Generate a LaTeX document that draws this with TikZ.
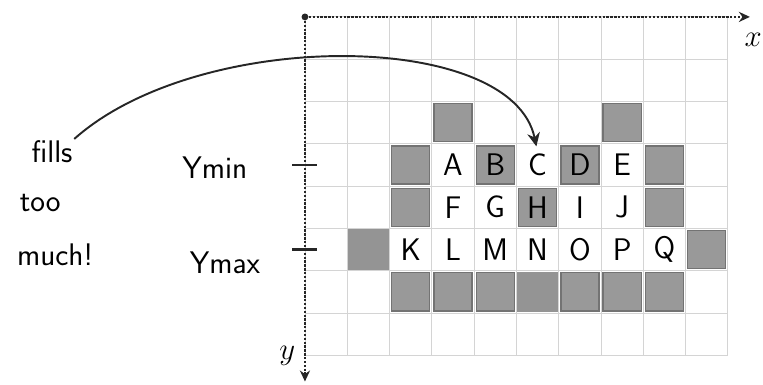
\documentclass[tikz,border=0pt]{standalone}
\usepackage{tikz}
\usetikzlibrary{arrows.meta, positioning}
\tikzset{
  gridline/.style={draw=black!17, line width=0.6pt},
  cellbox/.style={fill=black!40, draw=black!55, line width=0.9pt},
  flatbox/.style={fill=black!42},
  letter/.style={font=\sffamily\fontsize{21}{24}\selectfont, inner sep=1pt},
  handnote/.style={font=\sffamily\fontsize{21}{24}\selectfont, inner sep=1pt},
  axisline/.style={densely dotted, line width=1.6pt, black!85, -{Stealth[length=2.6mm, width=2.4mm]}},
  tickline/.style={line width=1.5pt, black!85},
  pointer/.style={-{Stealth[length=3.2mm, width=3mm]}, line width=1.3pt, black!85}
}

\begin{document}
\begin{tikzpicture}

\useasboundingbox (-7.21,-8.70) rectangle (10.83,0.40);

% Grid
\draw[gridline] (0,0) grid (10,-8);

% Filled cells
\draw[cellbox] (3.05,-2.05) rectangle ++(0.9,-0.9);
\draw[cellbox] (7.05,-2.05) rectangle ++(0.9,-0.9);

\draw[cellbox] (2.05,-3.05) rectangle ++(0.9,-0.9);
\draw[cellbox] (4.05,-3.05) rectangle ++(0.9,-0.9);
\draw[cellbox] (6.05,-3.05) rectangle ++(0.9,-0.9);
\draw[cellbox] (8.05,-3.05) rectangle ++(0.9,-0.9);

\draw[cellbox] (2.05,-4.05) rectangle ++(0.9,-0.9);
\draw[cellbox] (5.05,-4.05) rectangle ++(0.9,-0.9);
\draw[cellbox] (8.05,-4.05) rectangle ++(0.9,-0.9);

\fill[flatbox] (1.02,-5.02) rectangle ++(0.96,-0.96);
\draw[cellbox] (9.05,-5.05) rectangle ++(0.9,-0.9);

\draw[cellbox] (2.05,-6.05) rectangle ++(0.9,-0.9);
\draw[cellbox] (3.05,-6.05) rectangle ++(0.9,-0.9);
\draw[cellbox] (4.05,-6.05) rectangle ++(0.9,-0.9);
\fill[flatbox] (5.02,-6.02) rectangle ++(0.96,-0.96);
\draw[cellbox] (6.05,-6.05) rectangle ++(0.9,-0.9);
\draw[cellbox] (7.05,-6.05) rectangle ++(0.9,-0.9);
\draw[cellbox] (8.05,-6.05) rectangle ++(0.9,-0.9);

% Letters
\node[letter] (A) at (3.5,-3.5) {A};
\node[letter] (B) at (4.5,-3.5) {B};
\node[letter] (C) at (5.5,-3.5) {C};
\node[letter] (D) at (6.5,-3.5) {D};
\node[letter] (E) at (7.5,-3.5) {E};

\node[letter] (F) at (3.5,-4.5) {F};
\node[letter] (G) at (4.5,-4.5) {G};
\node[letter] (H) at (5.5,-4.5) {H};
\node[letter] (I) at (6.5,-4.5) {I};
\node[letter] (J) at (7.5,-4.5) {J};

\node[letter] (K) at (2.5,-5.5) {K};
\node[letter] (L) at (3.5,-5.5) {L};
\node[letter] (M) at (4.5,-5.5) {M};
\node[letter] (N) at (5.5,-5.5) {N};
\node[letter] (O) at (6.5,-5.5) {O};
\node[letter] (P) at (7.5,-5.5) {P};
\node[letter] (Q) at (8.5,-5.5) {Q};

% Axes
\coordinate (origin) at (0,0);
\coordinate (xend) at (10.52,0);
\coordinate (yend) at (0,-8.62);
\draw[axisline] (origin) -- (xend);
\draw[axisline] (origin) -- (yend);
\fill[black!85] (origin) circle (2.3pt);
\node[font=\fontsize{20}{22}\selectfont] (xlabel) at (10.6,-0.55) {$x$};
\node[font=\fontsize{20}{22}\selectfont] (ylabel) at (-0.42,-8.02) {$y$};

% Ticks
\draw[tickline] (-0.3,-3.5) -- (0.28,-3.5);
\draw[tickline] (-0.3,-5.5) -- (0.28,-5.5);
\node[handnote] (ymin) at (-2.13,-3.57) {Ymin};
\node[handnote] (ymax) at (-1.89,-5.82) {Ymax};

% Note
\node[handnote] (fills) at (-5.98,-3.19) {fills};
\node[handnote] (too)   at (-6.26,-4.40) {too};
\node[handnote] (much)  at (-5.91,-5.63) {much!};

% Pointer
\draw[pointer, shorten >=4pt] (fills.north east) .. controls (-2.5,-0.25) and (4.9,-0.3) .. (C.north);

\end{tikzpicture}
\end{document}
